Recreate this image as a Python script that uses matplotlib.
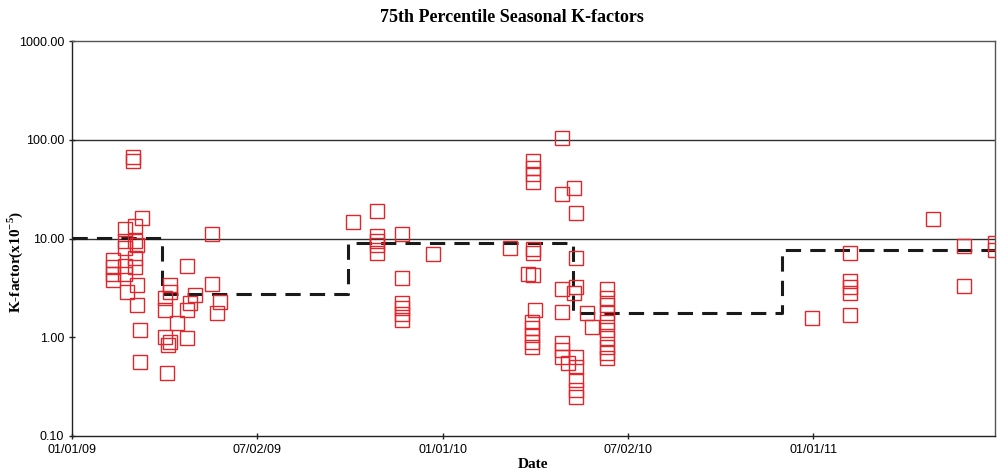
import matplotlib
matplotlib.use("Agg")
import matplotlib.pyplot as plt
from matplotlib.ticker import FixedLocator, NullLocator

plt.rcParams['mathtext.fontset'] = 'custom'
plt.rcParams['mathtext.rm'] = 'Liberation Serif:bold'
plt.rcParams['mathtext.bf'] = 'Liberation Serif:bold'

# Days since 01/01/09 and K-factor values (x10^-5)
days = [60, 60, 69, 52, 62, 52, 62, 64, 52, 138,
        40, 40, 40, 40, 52, 52, 62, 62, 64, 54,
        64, 67, 67, 113, 97, 97, 92, 92, 113, 121,
        116, 138, 146, 143, 103, 92, 113, 95, 97, 94,
        277, 300, 300, 300, 300, 300, 325, 325, 325, 325, 325, 325, 356, 431,
        483, 483, 483, 483, 483, 483, 483,
        454, 454, 454, 454, 454, 454, 454, 449,
        494, 494,
        496, 496, 496, 496, 496, 496, 496, 496,
        456, 453, 453, 453, 453, 453, 488, 507, 512,
        527, 527, 527, 527, 527, 527, 527, 527, 527, 527,
        729, 766, 766, 766, 766, 766, 848, 878, 878, 909, 909]
kfactor = [67, 61, 16.3, 12.6, 13.5, 9.5, 9.5, 8.5, 8.1, 11.2,
           6.0, 5.1, 4.4, 3.8, 5.3, 4.4, 6.3, 5.1, 3.4, 2.85,
           2.1, 1.18, 0.56, 5.3, 3.35, 2.85, 2.5, 1.87, 1.87, 2.65,
           2.2, 3.5, 2.25, 1.75, 1.38, 1.0, 0.98, 0.83, 0.89, 0.43,
           14.8, 18.8, 10.7, 9.5, 8.5, 7.2, 11.2, 4.0, 2.2, 1.96, 1.7, 1.48, 6.9, 8.1,
           105, 28.5, 3.1, 1.8, 0.87, 0.74, 0.63,
           61, 52, 45, 37, 7.9, 7.1, 4.3, 4.4,
           32.6, 2.8,
           18.3, 6.3, 3.2, 0.63, 0.5, 0.37, 0.29, 0.25,
           1.87, 1.42, 1.23, 1.05, 0.89, 0.79, 0.55, 1.75, 1.26,
           3.1, 2.5, 2.1, 1.75, 1.42, 1.18, 0.98, 0.79, 0.69, 0.62,
           1.55, 7.1, 3.75, 3.2, 2.8, 1.67, 15.9, 8.3, 3.3, 8.9, 7.6]

# Seasonal 75th percentile step line
step_days = [0, 89, 272, 493, 699, 909]
step_vals = [10.2, 2.72, 8.9, 1.75, 7.7, 7.7]

xtick_days = [0, 182.5, 365, 547.5, 730]
xtick_labels = ["01/01/09", "07/02/09", "01/01/10", "07/02/10", "01/01/11"]
ytick_vals = [0.1, 1, 10, 100, 1000]
ytick_labels = ["0.10", "1.00", "10.00", "100.00", "1000.00"]

fig = plt.figure(figsize=(10.03, 4.72), dpi=100)
ax = fig.add_axes([72/1003, 1-436/472, (995-72)/1003, (436-41)/472])

ax.set_yscale('log')
ax.set_ylim(0.1, 1000)
ax.set_xlim(0, 909)

for v in [10, 100]:
    ax.axhline(v, color='#303030', lw=1.0, zorder=1)

ax.plot(days, kfactor, linestyle='none', marker='s', markersize=10.5,
        markerfacecolor='none', markeredgecolor='#e3242b', markeredgewidth=1.0, zorder=3)
ax.plot(step_days, step_vals, drawstyle='steps-post', color='#1a1a1a',
        lw=2.2, linestyle=(0, (5, 3)), zorder=2)

ax.yaxis.set_major_locator(FixedLocator(ytick_vals))
ax.yaxis.set_minor_locator(NullLocator())
ax.set_yticklabels(ytick_labels, fontfamily='Liberation Sans', fontsize=9)
ax.xaxis.set_major_locator(FixedLocator(xtick_days))
ax.set_xticklabels(xtick_labels, fontfamily='Liberation Sans', fontsize=9)
ax.tick_params(axis='both', direction='inout', length=5, width=1, color='#222222', pad=3)

for s in ax.spines.values():
    s.set_color('#222222')
    s.set_linewidth(1.0)
ax.spines['top'].set_color('#555555')
ax.spines['right'].set_color('#555555')

fig.text(512/1003, 1-17/472, "75th Percentile Seasonal K-factors", fontfamily='Liberation Serif',
         fontweight='bold', fontsize=13, ha='center', va='center')
ax.set_xlabel("Date", fontfamily='Liberation Serif', fontweight='bold', fontsize=11, labelpad=2)
ax.set_ylabel(r"K-factor(x10$^{\mathbf{-5}}$)", fontfamily='Liberation Serif',
              fontweight='bold', fontsize=11, va='center')
ax.yaxis.set_label_coords((15-72)/923, 1-(262-41)/395)

fig.savefig("out.png", dpi=100)
